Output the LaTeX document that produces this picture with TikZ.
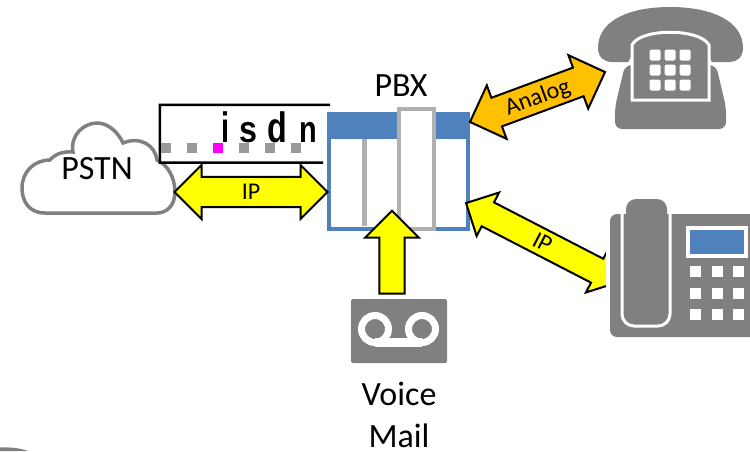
\documentclass[tikz,border=0pt]{standalone}
\usepackage{graphicx}
\usepackage{fontspec}
\setmainfont{Carlito}
\newfontfamily\isdnfont{Liberation Sans}
\usepackage{tikz}
\usetikzlibrary{positioning, shapes.arrows}
\definecolor{iconGray}{HTML}{808080}
\definecolor{slotGray}{HTML}{B0B0B0}
\definecolor{pbxBlue}{HTML}{4F81BD}
\definecolor{analogOrange}{HTML}{FFC000}
\definecolor{flowYellow}{HTML}{FFFF00}
\definecolor{dotPink}{HTML}{FF00FF}
\definecolor{dotGray}{HTML}{999999}

\begin{document}
\begin{tikzpicture}[x=1pt, y=-1pt, node distance=8pt,
  big label/.style={font=\fontsize{34}{38}\selectfont, inner sep=0pt},
  flow/.style={draw=black, line width=2pt, inner xsep=0pt, inner ysep=0pt,
    font=\fontsize{24}{26}\selectfont, fill=flowYellow},
  flow both/.style={flow, double arrow, text height=19.5pt, text depth=5pt},
  key/.style={fill=white, rounded corners=1.5pt, minimum size=11pt, inner sep=0pt},
  desk key/.style={fill=white, minimum size=11pt, inner sep=0pt},
  line dot/.style={fill=dotGray, minimum size=10pt, inner sep=0pt},
  isdn letter/.style={font=\isdnfont\bfseries\fontsize{34}{36}\selectfont, anchor=base, inner sep=0pt}]

\useasboundingbox (0,0) rectangle (750,451);

% cloud
\draw[iconGray, line width=3.5pt, fill=white]
  (45,213) .. controls (28,213) and (22,200) .. (22,188)
  .. controls (22,172) and (34,160) .. (50,160)
  .. controls (54,155) and (62,151) .. (73,152)
  .. controls (70,135) and (84,123) .. (97,123)
  .. controls (108,123) and (118,132) .. (123,143)
  .. controls (140,136) and (155,145) .. (157,160)
  .. controls (168,165) and (175,178) .. (175,192)
  .. controls (175,205) and (167,213) .. (157,213) -- cycle;
\node[big label] (pstn) at (97,169) {PSTN};

% isdn picture
\node[fill=white, minimum width=170pt, minimum height=57.5pt, inner sep=0pt] (isdnBox) at (245,133.75) {};
\coordinate (isdnEnd) at (323,162.5);
\draw[black, line width=2.5pt] (isdnBox.north east) -- (isdnBox.north west)
  -- (isdnBox.south west) -- (isdnEnd);
\node[line dot] (dotA) at (166,148) {};
\node[line dot] (dotB) at (192,148) {};
\node[line dot, fill=dotPink] (dotC) at (218,148) {};
\node[line dot] (dotD) at (244,148) {};
\node[line dot] (dotE) at (270,148) {};
\node[line dot] (dotF) at (296,148) {};
\node[isdn letter] (letterI) at (226,142) {\scalebox{0.85}[1.25]{i}};
\node[isdn letter] (letterS) at (248,142) {\scalebox{0.95}[1.1]{s}};
\node[isdn letter] (letterD) at (277,142) {\scalebox{0.95}[1.25]{d}};
\node[isdn letter] (letterN) at (308,142) {\scalebox{0.85}[1.1]{n}};

% pbx
\node[draw=pbxBlue, line width=4.5pt, fill=white, minimum width=139pt, minimum height=115pt, inner sep=0pt] (pbx) at (398.5,171.5) {};
\node[fill=pbxBlue, minimum width=143pt, minimum height=27pt, inner sep=0pt] (pbxHead) at (398.5,125.5) {};
\node[fill=slotGray, minimum width=5pt, minimum height=87pt, inner sep=0pt] (slotA) at (364.5,182.5) {};
\node[draw=slotGray, line width=4pt, fill=white, minimum width=35pt, minimum height=120pt, inner sep=0pt] (slotB) at (416.5,169) {};
\node[big label] (pbxLabel) at (401,86) {PBX};

% arrows
\node[flow both, double arrow head extend=10.5pt, minimum height=153pt, minimum width=54pt] (ipLeft) at (251,192) {IP};
\node[flow both, double arrow head extend=11.5pt, fill=analogOrange, minimum height=144pt, minimum width=57pt, rotate=20.3] (analog) at (537.5,97) {Analog};
\node[flow both, double arrow head extend=9.5pt, minimum height=172pt, minimum width=49pt, text height=18.25pt, text depth=2.75pt, rotate=-27.3] (ipRight) at (542.5,242.5) {IP};
\node[flow, single arrow, single arrow head extend=12.5pt, minimum height=83pt, minimum width=54pt, text height=10pt, text depth=10pt, rotate=90] (voiceFlow) at (392,258.5) {};

% old phone
\node[fill=white, minimum width=30pt, minimum height=110pt, inner sep=0pt] (phoneMask) at (621,260) {};
\fill[iconGray] (598,48) .. controls (598,20) and (630,7) .. (670,7)
  .. controls (710,7) and (743,20) .. (743,48)
  .. controls (743,57) and (737,62) .. (730,62) -- (712,62)
  .. controls (706,55) and (708,45) .. (705,40)
  .. controls (695,33) and (645,33) .. (635,40)
  .. controls (632,45) and (634,55) .. (628,62) -- (612,62)
  .. controls (604,62) and (598,57) .. (598,48) -- cycle;
\fill[iconGray, rounded corners=7pt] (625,65) -- (615,107) -- (615,129) -- (726,129) -- (726,107) -- (716,65) -- cycle;
\draw[white, line width=3pt, fill=iconGray] (632,100) -- (632,45)
  .. controls (640,28) and (700,28) .. (709,45) -- (709,100) -- cycle;
\foreach \i/\kx in {1/655, 2/670, 3/685}
  \foreach \j/\ky in {1/55, 2/70, 3/85}
    \node[key] (oldKey\i\j) at (\kx,\ky) {};

% desk phone
\fill[iconGray, rounded corners=7pt] (610,214) rectangle (760,337);
\draw[white, line width=3pt, rounded corners=12pt] (622,214) -- (622,326) -- (670,326) -- (670,214);
\node[fill=iconGray, rounded corners=10pt, minimum width=41pt, minimum height=123pt, inner sep=0pt] (handset) at (646.5,260.5) {};
\node[draw=white, line width=4pt, fill=pbxBlue, minimum width=58pt, minimum height=28pt, inner sep=0pt] (display) at (717,242) {};
\foreach \i/\kx in {1/695, 2/717, 3/738}
  \foreach \j/\ky in {1/271, 2/293, 3/314}
    \node[desk key] (deskKey\i\j) at (\kx,\ky) {};

% voice mail
\node[fill=white, minimum width=107pt, minimum height=71pt, inner sep=0pt] (vmMask) at (399,331.5) {};
\node[fill=iconGray, rounded corners=2pt, minimum width=96pt, minimum height=64pt, inner sep=0pt] (vm) at (399,331) {};
\coordinate (reelL) at (375,329);
\coordinate (reelR) at (422,329);
\draw[white, line width=7pt] (reelL) circle (13.5);
\draw[white, line width=7pt] (reelR) circle (13.5);
\draw[white, line width=9pt] (375,342.5) -- (422,342.5);
\node[big label, below=19pt of vm] (voice) {Voice};
\node[big label, below=17pt of voice] (mail) {Mail};

\fill[iconGray] (0,451) -- (0,447.5) .. controls (10,447) and (20,448) .. (28,451) -- cycle;
\end{tikzpicture}
\end{document}
